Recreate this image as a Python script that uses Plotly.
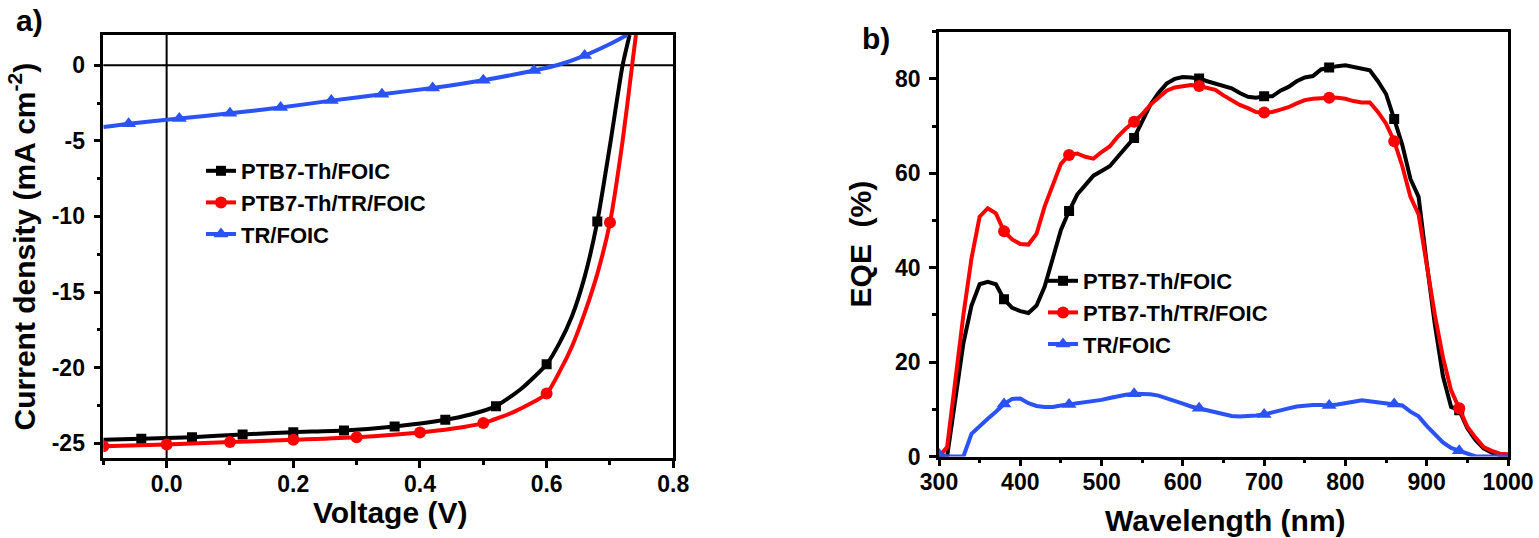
import plotly.graph_objects as go

# ---------------- J-V data (panel a) ----------------
jv_black_v = [-0.10, -0.04, 0.04, 0.12, 0.20, 0.28, 0.36, 0.44, 0.48, 0.52, 0.56, 0.60, 0.62, 0.64, 0.66, 0.68, 0.70, 0.72, 0.731]
jv_black_j = [-24.77, -24.71, -24.60, -24.42, -24.27, -24.16, -23.89, -23.45, -23.10, -22.55, -21.40, -19.78, -18.40, -16.60, -14.00, -10.34, -5.30, 0.00, 2.00]
jv_black_mv = [-0.04, 0.04, 0.12, 0.20, 0.28, 0.36, 0.44, 0.52, 0.60, 0.68]
jv_black_mj = [-24.71, -24.60, -24.42, -24.27, -24.16, -23.89, -23.45, -22.55, -19.78, -10.34]

jv_red_v = [-0.10, 0.00, 0.10, 0.20, 0.30, 0.40, 0.45, 0.50, 0.55, 0.60, 0.62, 0.64, 0.66, 0.68, 0.70, 0.72, 0.735, 0.741]
jv_red_j = [-25.20, -25.09, -24.93, -24.77, -24.60, -24.29, -24.05, -23.67, -22.90, -21.72, -20.30, -18.60, -16.40, -13.80, -10.41, -5.00, 0.00, 2.00]
jv_red_mv = [-0.10, 0.00, 0.10, 0.20, 0.30, 0.40, 0.50, 0.60, 0.70]
jv_red_mj = [-25.20, -25.09, -24.93, -24.77, -24.60, -24.29, -23.67, -21.72, -10.41]

jv_blue_v = [-0.10, -0.06, 0.02, 0.10, 0.18, 0.26, 0.34, 0.42, 0.50, 0.58, 0.62, 0.66, 0.70, 0.727]
jv_blue_j = [-4.09, -3.87, -3.53, -3.18, -2.80, -2.34, -1.92, -1.50, -0.99, -0.35, 0.05, 0.64, 1.40, 2.00]
jv_blue_mv = [-0.06, 0.02, 0.10, 0.18, 0.26, 0.34, 0.42, 0.50, 0.58, 0.66]
jv_blue_mj = [-3.87, -3.53, -3.18, -2.80, -2.34, -1.92, -1.50, -0.99, -0.35, 0.64]

# ---------------- EQE data (panel b) ----------------
wl = [300, 310, 320, 330, 340, 350, 360, 370, 380, 390, 400, 410, 420, 430, 440, 450, 460, 470, 480, 490,
      500, 510, 520, 530, 540, 550, 560, 570, 580, 590, 600, 610, 620, 630, 640, 650, 660, 670, 680, 690,
      700, 710, 720, 730, 740, 750, 760, 770, 780, 790, 800, 810, 820, 830, 840, 850, 860, 870, 880, 890,
      900, 910, 920, 930, 940, 950, 960, 970, 980, 990, 1000]
eqe_black = [0, 0, 12, 24, 32, 36.5, 37, 36.5, 33.3, 31.5, 30.8, 30.4, 32, 36, 42, 48, 52, 55.5, 57.5, 59.5,
             60.5, 61.5, 63.5, 65.5, 67.5, 71, 74.5, 77, 79, 80, 80.4, 80.3, 80.1, 79.5, 79, 78.5, 78, 77, 76.2, 76,
             76.3, 76.3, 77.5, 78.3, 79.5, 80.3, 80.6, 82, 82.4, 82.7, 82.9, 82.5, 82, 81.8, 79.5, 76.8, 71.5, 66, 58.8, 55,
             41, 28, 17, 10.5, 9.8, 6, 3.5, 1.7, 0.8, 0.3, 0.2]
eqe_red = [0, 2, 16, 30, 42, 50.8, 52.6, 51.5, 47.7, 46, 45, 44.9, 47.2, 53, 57.5, 62, 63.9, 64.2, 63.5, 63.1,
           64.5, 65.7, 67.8, 69.5, 70.9, 72.5, 74.5, 76, 77.5, 78.2, 78.5, 78.7, 78.5, 78.2, 77.7, 76.5, 75.5, 74.5, 73.8, 73,
           72.9, 73, 73.5, 74, 74.8, 75.5, 75.8, 76, 76, 76, 75.8, 75.3, 75, 75, 73, 70.5, 66.8, 61.5, 55, 51.3,
           40, 30, 21, 14, 10.2, 6.3, 4, 2, 1.2, 0.6, 0.5]
eqe_blue = [0.5, 0, 0, 0, 4.8, 6.5, 8, 9.5, 11.1, 12.2, 12.3, 11.3, 10.7, 10.5, 10.5, 10.8, 11, 11.2, 11.4, 11.6,
            12, 12.4, 12.8, 13.1, 13.3, 13.3, 13.2, 12.9, 12.4, 11.8, 11.2, 10.6, 10.2, 9.8, 9.3, 8.9, 8.6, 8.5, 8.5, 8.7,
            8.9, 9.4, 9.8, 10.2, 10.6, 10.8, 10.9, 10.9, 10.8, 11, 11.2, 11.6, 11.9, 11.7, 11.6, 11.4, 11.1, 10.8, 9.5, 8.5,
            6.5, 4.8, 3, 1.8, 1.2, 0.4, 0, 0, 0, 0, 0]
eqe_mark_wl = [300, 380, 460, 540, 620, 700, 780, 860, 940]

series_names = ["PTB7-Th/FOIC", "PTB7-Th/TR/FOIC", "TR/FOIC"]
colors = ["#000000", "#FF0000", "#2A52F5"]
symbols = ["square", "circle", "triangle-up"]
msizes = [10, 12, 13]

# tick labels
jv_xticks = [0.0, 0.2, 0.4, 0.6, 0.8]
jv_xlabels = ["0.0", "0.2", "0.4", "0.6", "0.8"]
jv_yticks = [0, -5, -10, -15, -20, -25]
jv_ylabels = ["0", "-5", "-10", "-15", "-20", "-25"]
eqe_xticks = [300, 400, 500, 600, 700, 800, 900, 1000]
eqe_yticks = [0, 20, 40, 60, 80]

FONT = "Liberation Sans, Arial, sans-serif"

fig = go.Figure()

jv_lines = [(jv_black_v, jv_black_j), (jv_red_v, jv_red_j), (jv_blue_v, jv_blue_j)]
jv_marks = [(jv_black_mv, jv_black_mj), (jv_red_mv, jv_red_mj), (jv_blue_mv, jv_blue_mj)]
for i in range(3):
    fig.add_trace(go.Scatter(x=jv_lines[i][0], y=jv_lines[i][1], mode="lines",
                             line=dict(color=colors[i], width=4, shape="spline", smoothing=0.6),
                             xaxis="x", yaxis="y", showlegend=False, hoverinfo="skip"))
    fig.add_trace(go.Scatter(x=jv_marks[i][0], y=jv_marks[i][1], mode="markers",
                             marker=dict(color=colors[i], symbol=symbols[i], size=msizes[i]),
                             xaxis="x", yaxis="y", showlegend=False))
    fig.add_trace(go.Scatter(x=[None], y=[None], mode="lines+markers", name=series_names[i],
                             line=dict(color=colors[i], width=4),
                             marker=dict(color=colors[i], symbol=symbols[i], size=msizes[i]),
                             xaxis="x", yaxis="y", legend="legend"))

eqe_series = [eqe_black, eqe_red, eqe_blue]
for i in range(3):
    fig.add_trace(go.Scatter(x=wl, y=eqe_series[i], mode="lines",
                             line=dict(color=colors[i], width=4),
                             xaxis="x2", yaxis="y2", showlegend=False, hoverinfo="skip"))
    mv = [eqe_series[i][wl.index(w)] for w in eqe_mark_wl]
    fig.add_trace(go.Scatter(x=eqe_mark_wl, y=mv, mode="markers",
                             marker=dict(color=colors[i], symbol=symbols[i], size=msizes[i]),
                             xaxis="x2", yaxis="y2", showlegend=False))
    fig.add_trace(go.Scatter(x=[None], y=[None], mode="lines+markers", name=series_names[i],
                             line=dict(color=colors[i], width=4),
                             marker=dict(color=colors[i], symbol=symbols[i], size=msizes[i]),
                             xaxis="x2", yaxis="y2", legend="legend2"))

W, H = 1539, 538
tickfont = dict(family=FONT, size=23, color="black", weight="bold")
titlefont = dict(family=FONT, size=30, color="black", weight="bold")

def ax(**kw):
    base = dict(showline=True, linewidth=2.5, linecolor="black", mirror=True,
                ticks="outside", ticklen=7, tickwidth=2.5, tickcolor="black",
                showgrid=False, tickfont=tickfont, zeroline=False, fixedrange=True,
                automargin=False)
    base.update(kw)
    return base

fig.update_layout(
    template="none",
    width=W, height=H, autosize=False,
    margin=dict(l=0, r=0, t=0, b=0, pad=0),
    paper_bgcolor="white", plot_bgcolor="white",
    font=dict(family=FONT, color="black"),
    xaxis=ax(domain=[103.3 / W, 673.3 / W], range=[-0.1, 0.8], anchor="y",
             tickmode="array", tickvals=jv_xticks, ticktext=jv_xlabels, ticklabelstandoff=-4,
             minor=dict(tickmode="array", tickvals=[-0.1, 0.1, 0.3, 0.5, 0.7], ticklen=4, tickwidth=2.5, tickcolor="black", ticks="outside")),
    yaxis=ax(domain=[1 - 458.3 / H, 1 - 35 / H], range=[-26, 2], anchor="x",
             tickmode="array", tickvals=jv_yticks, ticktext=jv_ylabels, ticklabelstandoff=4,
             minor=dict(tickmode="array", tickvals=[-2.5, -7.5, -12.5, -17.5, -22.5], ticklen=4, tickwidth=2.5, tickcolor="black", ticks="outside"),
             title=dict(text="Current density (mA cm<sup>-2</sup>)", font=titlefont, standoff=8)),
    xaxis2=ax(domain=[939 / W, 1508 / W], range=[300, 1000], anchor="y2",
              tickmode="array", tickvals=eqe_xticks, ticklabelstandoff=-4,
              minor=dict(tickmode="array", tickvals=[350, 450, 550, 650, 750, 850, 950], ticklen=4, tickwidth=2.5, tickcolor="black", ticks="outside")),
    yaxis2=ax(domain=[1 - 456.5 / H, 1 - 31.7 / H], range=[0, 90], anchor="x2",
              tickmode="array", tickvals=eqe_yticks, ticklabelstandoff=4,
              minor=dict(tickmode="array", tickvals=[10, 30, 50, 70, 90], ticklen=4, tickwidth=2.5, tickcolor="black", ticks="outside"),
              title=dict(text="EQE  (%)", font=titlefont, standoff=15)),
    legend=dict(x=201 / W, y=1 - 150 / H, xanchor="left", yanchor="top",
                bgcolor="rgba(0,0,0,0)", borderwidth=0,
                font=dict(family=FONT, size=22, color="black", weight="bold"),
                tracegroupgap=0),
    legend2=dict(x=1043 / W, y=1 - 260 / H, xanchor="left", yanchor="top",
                 bgcolor="rgba(0,0,0,0)", borderwidth=0,
                 font=dict(family=FONT, size=22, color="black", weight="bold"),
                 tracegroupgap=0),
    annotations=[
        dict(text="Voltage (V)", x=390 / W, y=1 - 512 / H, xref="paper", yref="paper", showarrow=False,
             xanchor="center", yanchor="middle", font=titlefont),
        dict(text="Wavelength (nm)", x=1225 / W, y=1 - 520 / H, xref="paper", yref="paper", showarrow=False,
             xanchor="center", yanchor="middle", font=titlefont),
        dict(text="a)", x=29 / W, y=1 - 20 / H, xref="paper", yref="paper", showarrow=False,
             xanchor="center", yanchor="middle", font=dict(family=FONT, size=30, color="black", weight="bold")),
        dict(text="b)", x=876 / W, y=1 - 39 / H, xref="paper", yref="paper", showarrow=False,
             xanchor="center", yanchor="middle", font=dict(family=FONT, size=30, color="black", weight="bold")),
    ],
)

# the two zero lines of panel a
fig.add_hline(y=0, line=dict(color="black", width=2), xref="x", yref="y", layer="below")
fig.add_vline(x=0, line=dict(color="black", width=2), xref="x", yref="y", layer="below")

fig.write_html("out.html", config={"displayModeBar": False},
               post_script="document.body.style.margin='0';document.body.style.overflow='hidden';")
